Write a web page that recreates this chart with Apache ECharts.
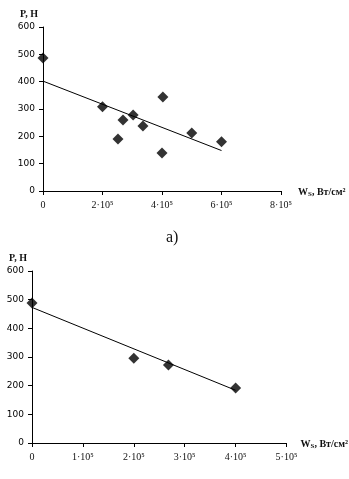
<!DOCTYPE html>
<html>
<head>
<meta charset="utf-8">
<script src="https://cdn.jsdelivr.net/npm/echarts@6/dist/echarts.min.js"></script>
<style>
  html, body { margin: 0; background: #fff; }
  #chart { width: 349px; height: 479px; }
</style>
</head>
<body>
<div id="chart"></div>
<script>
// chart a) - measured points
const aW = [0, 2.0e5, 2.52e5, 2.69e5, 3.03e5, 3.36e5, 4.03e5, 4.0e5, 5.0e5, 6.0e5]
const aP = [487, 308, 190, 260, 278, 238, 344, 139, 212, 180]
// chart a) - trend line ends
const aLineW = [0, 6.0e5]
const aLineP = [402, 148]

// chart b) - measured points
const bW = [0, 2.0e5, 2.68e5, 4.0e5]
const bP = [488, 296, 272, 192]
// chart b) - trend line ends
const bLineW = [0, 4.0e5]
const bLineP = [473, 184]

const zip = (xs, ys) => xs.map((x, i) => [x, ys[i]])

const serif = 'Liberation Serif'
const fmtX = v => v === 0 ? '0' : (v / 1e5) + '·10⁵'

function xAx(idx, max, step, gap) {
  return {
    gridIndex: idx, type: 'value', min: 0, max: max, interval: step,
    axisLine: { lineStyle: { color: '#000', width: 1 } },
    axisTick: { show: true, length: 4, lineStyle: { color: '#000' } },
    splitLine: { show: false },
    axisLabel: { color: '#111', fontFamily: serif, fontSize: 10, margin: 9, formatter: fmtX },
    name: '{w|W}{s|S}{w|, Вт/см²}',
    nameLocation: 'end', nameGap: gap,
    nameTextStyle: {
      align: 'left', verticalAlign: 'middle', padding: [2, 0, 0, 0],
      rich: {
        w: { fontFamily: serif, fontSize: 10, fontWeight: 'bold', color: '#111' },
        s: { fontFamily: serif, fontSize: 7, fontWeight: 'bold', color: '#111', padding: [5, 0, 0, 0] }
      }
    }
  }
}

function yAx(idx) {
  return {
    gridIndex: idx, type: 'value', min: 0, max: 600, interval: 100,
    axisLine: { show: true, lineStyle: { color: '#000', width: 1 } },
    axisTick: { show: true, length: 4, lineStyle: { color: '#000' } },
    splitLine: { show: false },
    axisLabel: { color: '#000', fontFamily: 'DejaVu Sans', fontSize: 9, margin: 8 },
    name: 'P, Н', nameLocation: 'end', nameGap: 8,
    nameTextStyle: { fontFamily: serif, fontSize: 10, fontWeight: 'bold', color: '#111', align: 'right', padding: [0, 5, 0, 0] }
  }
}

const dots = (idx, data) => ({
  type: 'scatter', xAxisIndex: idx, yAxisIndex: idx, data: data,
  symbol: 'diamond', symbolSize: 11, itemStyle: { color: '#000' }
})
const trend = (idx, data) => ({
  type: 'line', xAxisIndex: idx, yAxisIndex: idx, data: data,
  symbol: 'none', lineStyle: { color: '#000', width: 1 }
})

const chart = echarts.init(document.getElementById('chart'), null, { renderer: 'canvas' })
chart.setOption({
  animation: false,
  backgroundColor: '#fff',
  grid: [
    { left: 43, top: 27, width: 238, height: 164 },
    { left: 32, top: 271, width: 257, height: 172 }
  ],
  xAxis: [xAx(0, 8e5, 2e5, 17), xAx(1, 5e5, 1e5, 14)],
  yAxis: [yAx(0), yAx(1)],
  graphic: [{
    type: 'text', left: 166, top: 230,
    style: { text: 'а)', fontFamily: serif, fontSize: 16, fill: '#111' }
  }],
  series: [
    trend(0, zip(aLineW, aLineP)),
    dots(0, zip(aW, aP)),
    trend(1, zip(bLineW, bLineP)),
    dots(1, zip(bW, bP))
  ]
})
</script>
</body>
</html>
